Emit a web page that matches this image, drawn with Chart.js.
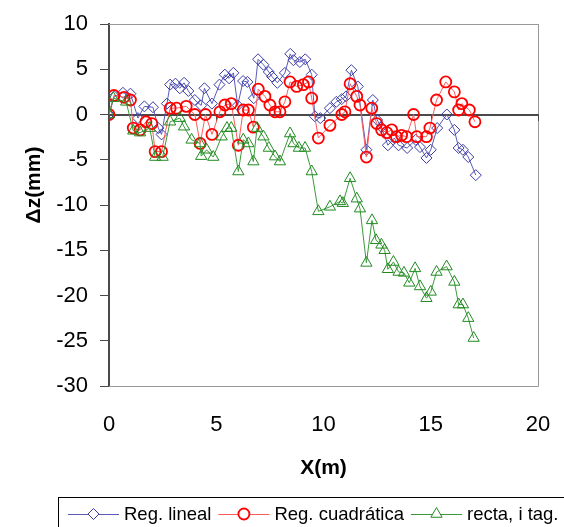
<!DOCTYPE html>
<html>
<head>
<meta charset="utf-8">
<script src="https://cdn.jsdelivr.net/npm/chart.js@4.4.1/dist/chart.umd.min.js"></script>
<style>
  html, body { margin: 0; padding: 0; background: #fff; }
  #wrap { width: 564px; height: 527px; }
</style>
</head>
<body>
<div id="wrap"><canvas id="chart" width="564" height="527"></canvas></div>
<script>
// series names as in the legend
const seriesNames = ['Reg. lineal', 'Reg. cuadrática', 'recta, i tag.'];

// Reg. lineal
const linealX = [0, 0.25, 0.65, 1.0, 1.35, 1.65, 2.05, 2.3, 2.45, 2.7, 2.85, 3.1, 3.3, 3.5, 3.7, 4.0, 4.3, 4.45, 4.8, 5.15,
  5.4, 5.6, 5.8, 6.0, 6.25, 6.45, 6.75, 6.95, 7.2, 7.45, 7.6, 7.85, 8.2, 8.45, 8.6, 8.9, 9.15, 9.45, 9.6, 9.85,
  10.3, 10.6, 10.85, 11.05, 11.3, 11.6, 12.0, 12.3, 12.5, 12.7, 13.0, 13.3, 13.5, 13.9, 14.3, 14.5, 14.8, 15.0, 15.3, 15.75,
  16.1, 16.3, 16.5, 16.75, 17.1];
const linealY = [0, 2.0, 2.4, 2.3, -0.4, 0.9, 0.8, -1.5, -2.2, 1.2, 3.3, 3.4, 2.9, 3.5, 2.6, 1.6, 1.0, 2.9, 1.2, 3.3,
  4.4, 4.0, 4.6, 1.0, 3.7, 3.6, 1.8, 6.1, 5.5, 4.7, 4.2, 3.5, 4.6, 6.7, 6.0, 5.8, 6.1, 4.4, -0.2, -0.4,
  0.7, 1.4, 1.7, 2.0, 4.9, 3.1, -3.9, 1.6, -0.6, -1.4, -3.4, -2.6, -3.4, -3.7, -2.8, -3.6, -4.8, -3.9, -1.5, 0,
  -1.7, -3.7, -3.9, -4.7, -6.7];

// Reg. cuadrática
const cuadX = [0, 0.23, 0.7, 1.0, 1.13, 1.45, 1.72, 2.0, 2.15, 2.45, 2.85, 3.15, 3.6, 4.0, 4.25, 4.5, 4.8, 5.17, 5.4, 5.7,
  6.03, 6.26, 6.5, 6.73, 6.96, 7.27, 7.5, 7.74, 7.97, 8.2, 8.44, 8.75, 9.06, 9.3, 9.45, 9.76, 10.3, 10.85, 11.0, 11.24,
  11.55, 11.7, 12.0, 12.25, 12.48, 12.71, 12.95, 13.18, 13.4, 13.64, 13.87, 14.2, 14.35, 14.8, 14.96, 15.27, 15.7, 16.1, 16.3, 16.45,
  16.8, 17.06];
const cuadY = [0, 2.1, 1.9, 1.6, -1.5, -1.7, -0.8, -1.0, -4.1, -4.1, 0.7, 0.7, 0.9, 0, -3.2, 0, -2.2, 0.3, 1.05, 1.2,
  -3.4, 0.5, 0.5, -1.4, 2.8, 2.0, 1.05, 0.3, 0.3, 1.4, 3.6, 3.1, 3.3, 3.6, 1.8, -2.6, -1.2, 0, 0.3, 3.4,
  2.0, 1.05, -4.7, 0.7, -1.0, -1.7, -2.0, -1.7, -2.45, -2.3, -2.45, 0, -2.45, -2.45, -1.5, 1.6, 3.6, 2.5, 0.5, 1.2,
  0.5, -0.8];

// recta, i tag.
const rectaX = [0, 0.2, 0.8, 1.13, 1.45, 1.9, 2.15, 2.5, 2.85, 3.3, 3.5, 3.85, 4.24, 4.3, 4.55, 4.86, 5.25, 5.5, 5.7, 6.03,
  6.26, 6.5, 6.73, 6.9, 7.2, 7.45, 7.74, 7.97, 8.44, 8.6, 8.85, 9.14, 9.45, 9.76, 10.3, 10.77, 10.9, 11.24, 11.55, 11.7,
  12.0, 12.26, 12.45, 12.7, 12.85, 13.0, 13.26, 13.5, 13.75, 14.0, 14.27, 14.5, 14.8, 15.0, 15.27, 15.74, 16.1, 16.3, 16.5, 16.75,
  17.0];
const rectaY = [0, 1.8, 1.4, -1.8, -2.0, -1.5, -4.7, -4.7, -0.8, -0.4, -1.35, -2.8, -3.2, -4.6, -3.9, -4.7, -2.45, -1.5, -1.5, -6.3,
  -2.8, -3.2, -5.2, -1.5, -2.45, -3.7, -4.65, -5.2, -2.1, -3.2, -3.7, -3.7, -6.3, -10.7, -10.2, -9.6, -9.8, -7.05, -9.3, -10.4,
  -16.4, -11.7, -13.9, -14.4, -15.0, -17.1, -16.3, -17.4, -17.5, -18.6, -17.0, -19.0, -20.3, -19.6, -17.4, -16.8, -18.5, -21.0, -21.0, -22.5,
  -24.7];

const xRange = [0, 20];
const yRange = [-30, 10];
const tickStep = 5;

const FONT = "'Liberation Sans', Arial, sans-serif";
Chart.defaults.font.family = FONT;
Chart.defaults.color = '#000';

function toPoints(xs, ys) {
  return xs.map((x, i) => ({ x: x, y: ys[i] }));
}

function serie(label, xs, ys, color, markColor, style, radius, bw, order) {
  return {
    label: label,
    data: toPoints(xs, ys),
    showLine: true,
    borderColor: color,
    borderWidth: 1,
    pointStyle: style,
    pointRadius: radius,
    pointHoverRadius: radius,
    pointBorderColor: markColor,
    pointBackgroundColor: 'rgba(0,0,0,0)',
    pointBorderWidth: bw,
    order: order
  };
}

const datasets = [
  serie(seriesNames[0], linealX, linealY, '#5a5ab8', '#3a3aa8', 'rectRot', 5.5, 1, 3),
  serie(seriesNames[1], cuadX, cuadY, '#ff5a5a', '#ff0000', 'circle', 5.5, 1.8, 2),
  serie(seriesNames[2], rectaX, rectaY, '#3a9a3a', '#208a20', 'triangle', 6.5, 1, 1)
];

function hline(ctx, x1, y1, x2, y2) {
  ctx.beginPath();
  ctx.moveTo(x1, y1);
  ctx.lineTo(x2, y2);
  ctx.stroke();
}

const extras = {
  id: 'extras',
  beforeDatasetsDraw(chart) {
    const { ctx, chartArea: a, scales } = chart;
    ctx.save();
    // plot area frame (grey)
    ctx.strokeStyle = '#999';
    ctx.lineWidth = 1;
    hline(ctx, a.left, a.top + 0.5, a.right + 0.5, a.top + 0.5);
    hline(ctx, a.right + 0.5, a.top, a.right + 0.5, a.bottom + 0.5);
    hline(ctx, a.left, a.bottom + 0.5, a.right + 0.5, a.bottom + 0.5);
    // x axis crossing at y = 0
    const y0 = Math.round(scales.y.getPixelForValue(0));
    ctx.strokeStyle = '#4a4a4a';
    ctx.lineWidth = 2;
    hline(ctx, a.left, y0, a.right + 1, y0);
    ctx.lineWidth = 1;
    for (let v = xRange[0] + tickStep; v <= xRange[1]; v += tickStep) {
      const px = Math.round(scales.x.getPixelForValue(v)) + 0.5;
      hline(ctx, px, y0, px, y0 + 6);
    }
    ctx.restore();
  },
  afterDraw(chart) {
    const { ctx, chartArea: a } = chart;
    ctx.save();
    ctx.fillStyle = '#000';
    ctx.textAlign = 'center';
    ctx.textBaseline = 'middle';
    ctx.font = 'bold 21px ' + FONT;
    ctx.fillText('X(m)', (a.left + a.right) / 2, 468);
    ctx.translate(34, 185);
    ctx.rotate(-Math.PI / 2);
    ctx.fillText('Δz(mm)', 0, 0);
    ctx.restore();

    // legend in a box at the bottom
    ctx.save();
    ctx.strokeStyle = '#000';
    ctx.lineWidth = 1;
    ctx.strokeRect(58.5, 497.5, 600, 100);
    ctx.font = '18.5px ' + FONT;
    ctx.textBaseline = 'middle';
    ctx.textAlign = 'left';
    const ly = 514;
    let x = 68;
    chart.data.datasets.forEach(ds => {
      ctx.strokeStyle = ds.borderColor;
      ctx.lineWidth = 1;
      hline(ctx, x, ly + 0.5, x + 51, ly + 0.5);
      ctx.strokeStyle = ds.pointBorderColor;
      ctx.fillStyle = '#fff';
      ctx.lineWidth = ds.pointBorderWidth;
      Chart.helpers.drawPoint(ctx, { pointStyle: ds.pointStyle, radius: ds.pointRadius, borderWidth: ds.pointBorderWidth, rotation: 0 }, x + 25.5, ly);
      ctx.fillStyle = '#000';
      ctx.fillText(ds.label, x + 56, ly + 1);
      x += 56 + ctx.measureText(ds.label).width + 7;
    });
    ctx.restore();
  }
};

new Chart(document.getElementById('chart'), {
  type: 'scatter',
  data: { datasets: datasets },
  plugins: [extras],
  options: {
    responsive: false,
    animation: false,
    layout: { padding: { top: 24, right: 26, left: 0, bottom: 0 } },
    plugins: { legend: { display: false }, tooltip: { enabled: false } },
    scales: {
      x: {
        type: 'linear',
        min: xRange[0], max: xRange[1],
        ticks: { stepSize: tickStep, font: { size: 22 }, padding: 26 },
        grid: { display: false, drawTicks: false },
        border: { display: false },
        afterFit: s => { s.height = 141; s.paddingLeft = 0; s.paddingRight = 0; }
      },
      y: {
        type: 'linear',
        min: yRange[0], max: yRange[1],
        ticks: { stepSize: tickStep, font: { size: 22 }, padding: 12 },
        grid: { drawOnChartArea: false, tickLength: 9, color: '#4a4a4a' },
        border: { color: '#4a4a4a', width: 2 },
        afterFit: s => { s.width = 109; s.paddingTop = 0; s.paddingBottom = 0; }
      }
    }
  }
});
</script>
</body>
</html>
